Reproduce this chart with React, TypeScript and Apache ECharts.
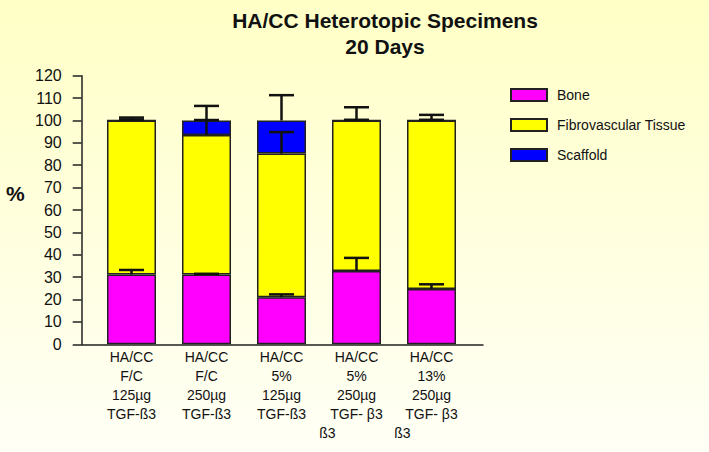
import React, { useEffect, useRef } from "react";
import * as echarts from "echarts";

const categories = [
  "HA/CC\nF/C\n125µg\nTGF-ß3",
  "HA/CC\nF/C\n250µg\nTGF-ß3",
  "HA/CC\n5%\n125µg\nTGF-ß3",
  "HA/CC\n5%\n250µg\nTGF- β3\nß3\u00A0\u00A0\u00A0\u00A0\u00A0\u00A0\u00A0\u00A0\u00A0\u00A0\u00A0\u00A0\u00A0\u00A0\u00A0",
  "HA/CC\n13%\n250µg\nTGF- β3\nß3\u00A0\u00A0\u00A0\u00A0\u00A0\u00A0\u00A0\u00A0\u00A0\u00A0\u00A0\u00A0\u00A0\u00A0\u00A0",
];
const bone = [31.2, 31.2, 21.0, 32.8, 24.7];
const fibro = [68.8, 62.3, 64.2, 67.2, 75.3];
const scaffold = [0, 6.5, 14.8, 0, 0];
const boneErr = [2.0, 0.3, 1.3, 5.8, 2.1];
const fibroErr = [0.4, 6.7, 9.6, 0.3, 0.3];
const scaffoldErr = [1.3, 6.5, 11.3, 5.9, 2.5];
const yTicks = { min: 0, max: 120, interval: 10 };

const FONT = "'Liberation Sans', Arial, sans-serif";

export default function App() {
  const ref = useRef<HTMLDivElement>(null);
  useEffect(() => {
    if (!ref.current) return;
    const chart = echarts.init(ref.current, null, { renderer: "svg" });

    const errData: number[][] = [];
    for (let i = 0; i < categories.length; i++) {
      const b = bone[i];
      const f = b + fibro[i];
      const s = f + scaffold[i];
      errData.push([i, b, b + boneErr[i]]);
      errData.push([i, f, f + fibroErr[i]]);
      errData.push([i, s, s + scaffoldErr[i]]);
    }

    const border = { borderColor: "#222", borderWidth: 1.5 };

    chart.setOption({
      animation: false,
      textStyle: { fontFamily: FONT },
      title: {
        text: "HA/CC Heterotopic Specimens\n20 Days",
        left: 380,
        top: 2,
        textAlign: "center",
        textStyle: {
          fontFamily: FONT,
          fontSize: 21,
          fontWeight: "bold",
          lineHeight: 26,
          color: "#111",
        },
      },
      legend: {
        orient: "vertical",
        left: 510,
        top: 88,
        padding: 0,
        itemWidth: 36,
        itemHeight: 12,
        itemGap: 16,
        icon: "rect",
        data: ["Bone", "Fibrovascular Tissue", "Scaffold"],
        textStyle: {
          fontFamily: FONT,
          fontSize: 14,
          color: "#111",
          padding: [0, 0, 3, 5],
        },
      },
      graphic: [
        {
          type: "text",
          left: 6,
          top: 183,
          style: {
            text: "%",
            fontFamily: FONT,
            fontSize: 21,
            fontWeight: "bold",
            fill: "#111",
          },
        },
      ],
      grid: [
        { left: 81.7, top: 75.7, width: 401.3, height: 268.6, containLabel: false },
        { left: 94, top: 75.7, width: 375, height: 268.6, containLabel: false },
      ],
      xAxis: [
        {
          gridIndex: 0,
          type: "value",
          min: 0,
          max: 1,
          axisLine: { show: true, lineStyle: { color: "#222", width: 1.5 } },
          axisTick: { show: false },
          axisLabel: { show: false },
          splitLine: { show: false },
        },
        {
          gridIndex: 1,
          type: "category",
          data: categories,
          axisLine: { show: false },
          axisTick: { show: false },
          axisLabel: {
            interval: 0,
            margin: 3,
            fontFamily: FONT,
            fontSize: 14,
            lineHeight: 19,
            color: "#111",
          },
        },
      ],
      yAxis: [
        {
          gridIndex: 0,
          type: "value",
          min: yTicks.min,
          max: yTicks.max,
          interval: yTicks.interval,
          axisLine: { show: true, lineStyle: { color: "#222", width: 1.5 } },
          axisTick: { show: true, length: 9, lineStyle: { color: "#222", width: 1.5 } },
          axisLabel: { fontFamily: FONT, fontSize: 16, color: "#111", margin: 20 },
          splitLine: { show: false },
        },
        {
          gridIndex: 1,
          type: "value",
          min: yTicks.min,
          max: yTicks.max,
          interval: yTicks.interval,
          show: false,
          splitLine: { show: false },
        },
      ],
      series: [
        {
          name: "Bone",
          type: "bar",
          stack: "total",
          xAxisIndex: 1,
          yAxisIndex: 1,
          barWidth: 49,
          data: bone,
          itemStyle: { color: "#FF00FF", ...border },
        },
        {
          name: "Fibrovascular Tissue",
          type: "bar",
          stack: "total",
          xAxisIndex: 1,
          yAxisIndex: 1,
          barWidth: 49,
          data: fibro,
          itemStyle: { color: "#FFFF00", ...border },
        },
        {
          name: "Scaffold",
          type: "bar",
          stack: "total",
          xAxisIndex: 1,
          yAxisIndex: 1,
          barWidth: 49,
          data: scaffold,
          itemStyle: { color: "#0000FF", ...border },
        },
        {
          name: "err",
          type: "custom",
          xAxisIndex: 1,
          yAxisIndex: 1,
          z: 10,
          data: errData,
          renderItem: (params: any, api: any) => {
            const x = api.value(0);
            const p0 = api.coord([x, api.value(1)]);
            const p1 = api.coord([x, api.value(2)]);
            const st = { stroke: "#111", lineWidth: 2.5 };
            return {
              type: "group",
              children: [
                { type: "line", shape: { x1: p0[0], y1: p0[1], x2: p1[0], y2: p1[1] }, style: st },
                { type: "line", shape: { x1: p1[0] - 12.5, y1: p1[1], x2: p1[0] + 12.5, y2: p1[1] }, style: st },
              ],
            };
          },
        },
      ],
    });
    return () => chart.dispose();
  }, []);
  return (
    <div
      ref={ref}
      style={{
        position: "fixed",
        left: 0,
        top: 0,
        width: 709,
        height: 452,
        background: "linear-gradient(#FFFFC6, #FFFFF6)",
      }}
    />
  );
}
